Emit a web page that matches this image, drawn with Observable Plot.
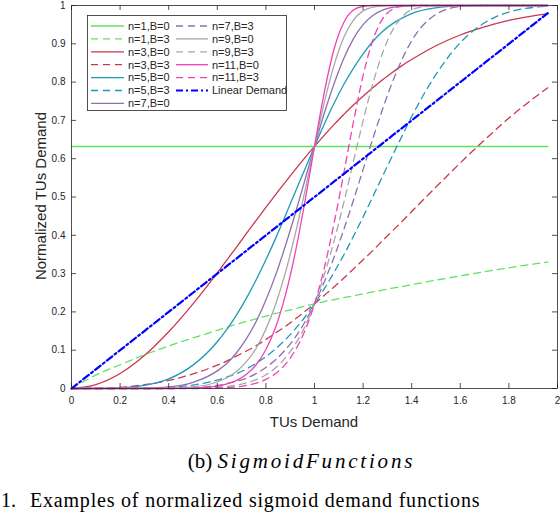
<!DOCTYPE html>
<html>
<head>
<meta charset="utf-8">
<script src="https://cdn.jsdelivr.net/npm/d3@7"></script>
<script src="https://cdn.jsdelivr.net/npm/@observablehq/plot@0.6"></script>
<style>
  body { margin: 0; background: #fff; }
  #wrap { position: relative; width: 560px; height: 512px; overflow: hidden; font-family: "Liberation Sans", Arial, sans-serif; color: #262626; }
  #chart { position: absolute; left: 0; top: 0; }
  .axlab { position: absolute; font-size: 15px; color: #262626; white-space: nowrap; }
  #xlab { left: 314px; top: 421px; transform: translate(-50%, -50%); }
  #ylab { left: 40px; top: 196px; transform: translate(-50%, -50%) rotate(-90deg); }
  #legend { position: absolute; left: 0; top: 0; }
  #caption { position: absolute; left: 0; width: 603px; top: 449px; text-align: center; font-family: "Liberation Serif", "DejaVu Serif", serif; font-size: 21px; color: #000; white-space: nowrap; }
  #caption i { letter-spacing: 2.8px; }
  .foot { position: absolute; top: 489px; line-height: 22px; font-family: "Liberation Serif", "DejaVu Serif", serif; font-size: 20px; color: #000; white-space: nowrap; }
</style>
</head>
<body>
<div id="wrap">
  <div id="chart"></div>
  <div class="axlab" id="xlab">TUs Demand</div>
  <div class="axlab" id="ylab">Normalized TUs Demand</div>
  <div id="caption">(b) <i>SigmoidFunctions</i></div>
  <div class="foot" style="left:1px">1.</div>
  <div class="foot" style="left:30px; letter-spacing:0.8px">Examples of normalized sigmoid demand functions</div>
</div>
<script>
// ---- data ----
const xs = [0,0.1,0.2,0.3,0.4,0.5,0.6,0.64,0.68,0.72,0.76,0.8,0.84,0.88,0.92,0.96,1.0,1.04,1.08,1.12,1.16,1.2,1.24,1.28,1.32,1.36,1.4,1.5,1.6,1.7,1.8,1.9,1.96];

const n1B0 = [0.632,0.632,0.632,0.632,0.632,0.632,0.632,0.632,0.632,0.632,0.632,0.632,0.632,0.632,0.632,0.632,0.632,0.632,0.632,0.632,0.632,0.632,0.632,0.632,0.632,0.632,0.632,0.632,0.632,0.632,0.632,0.632,0.632];
const n1B3 = [0,0.035,0.062,0.088,0.111,0.132,0.152,0.16,0.168,0.175,0.182,0.189,0.196,0.202,0.208,0.215,0.221,0.227,0.232,0.237,0.242,0.247,0.252,0.257,0.262,0.266,0.271,0.283,0.294,0.305,0.315,0.325,0.33];
const n3B0 = [0,0.01,0.039,0.086,0.148,0.221,0.302,0.336,0.37,0.405,0.439,0.473,0.506,0.539,0.571,0.602,0.632,0.661,0.689,0.715,0.74,0.763,0.785,0.806,0.825,0.843,0.859,0.895,0.923,0.944,0.961,0.973,0.979];
const n3B3 = [0,0.0005,0.003,0.01,0.021,0.038,0.061,0.072,0.085,0.098,0.112,0.128,0.145,0.162,0.181,0.201,0.221,0.243,0.265,0.288,0.312,0.336,0.36,0.386,0.411,0.436,0.462,0.526,0.589,0.649,0.706,0.757,0.785];
const n5B0 = [0,0.0001,0.0016,0.0081,0.025,0.061,0.122,0.155,0.193,0.236,0.284,0.336,0.392,0.451,0.512,0.572,0.632,0.69,0.744,0.793,0.836,0.874,0.906,0.932,0.952,0.967,0.979,0.994,0.999,1,1,1,1];
const n5B3 = [0,0,0.0001,0.0008,0.003,0.009,0.022,0.03,0.039,0.051,0.066,0.083,0.104,0.127,0.155,0.186,0.221,0.26,0.303,0.348,0.397,0.448,0.501,0.554,0.607,0.659,0.71,0.82,0.903,0.955,0.983,0.995,0.998];
const n7B0 = [0,0,0.0001,0.0007,0.004,0.016,0.046,0.066,0.094,0.13,0.175,0.231,0.296,0.372,0.455,0.543,0.632,0.718,0.795,0.861,0.913,0.95,0.974,0.988,0.995,0.998,1,1,1,1,1,1,1];
const n7B3 = [0,0,0,0,0.0005,0.002,0.008,0.013,0.019,0.027,0.039,0.055,0.075,0.101,0.133,0.173,0.221,0.278,0.342,0.414,0.491,0.572,0.652,0.729,0.799,0.859,0.908,0.977,0.997,1,1,1,1];
const n9B0 = [0,0,0,0,0.0007,0.004,0.017,0.028,0.045,0.07,0.105,0.155,0.22,0.302,0.401,0.514,0.632,0.746,0.843,0.916,0.962,0.986,0.996,0.999,1,1,1,1,1,1,1,1,1];
const n9B3 = [0,0,0,0,0,0.0006,0.003,0.005,0.009,0.015,0.023,0.036,0.054,0.08,0.115,0.161,0.221,0.296,0.384,0.484,0.592,0.699,0.796,0.876,0.934,0.97,0.989,1,1,1,1,1,1];
const n11B0 = [0,0,0,0,0,0.001,0.006,0.012,0.021,0.037,0.062,0.102,0.16,0.243,0.352,0.486,0.632,0.772,0.885,0.955,0.988,0.998,1,1,1,1,1,1,1,1,1,1,1];
const n11B3 = [0,0,0,0,0,0,0.001,0.002,0.004,0.008,0.014,0.024,0.039,0.063,0.099,0.15,0.221,0.314,0.43,0.56,0.695,0.817,0.909,0.965,0.99,0.998,1,1,1,1,1,1,1];
const linearDemand = [0,0.05,0.1,0.15,0.2,0.25,0.3,0.32,0.34,0.36,0.38,0.4,0.42,0.44,0.46,0.48,0.5,0.52,0.54,0.56,0.58,0.6,0.62,0.64,0.66,0.68,0.7,0.75,0.8,0.85,0.9,0.95,0.98];

const xTicks = [0,0.2,0.4,0.6,0.8,1,1.2,1.4,1.6,1.8,2];
const yTicks = [0,0.1,0.2,0.3,0.4,0.5,0.6,0.7,0.8,0.9,1];

// ---- styling ----
const GREEN = "#5fe35f", RED = "#c9384f", TEAL = "#1e9ab6", PURPLE = "#8f6fb0", GRAY = "#a8a8a8", PINK = "#ee42b6", BLUE = "#0000ff";
const DASH = "7,5";
const series = [
  {label: "n=1,B=0", y: n1B0, color: GREEN, dash: null, w: 1.5},
  {label: "n=1,B=3", y: n1B3, color: GREEN, dash: DASH, w: 1.3},
  {label: "n=3,B=0", y: n3B0, color: RED, dash: null, w: 1.3},
  {label: "n=3,B=3", y: n3B3, color: RED, dash: DASH, w: 1.3},
  {label: "n=5,B=0", y: n5B0, color: TEAL, dash: null, w: 1.3},
  {label: "n=5,B=3", y: n5B3, color: TEAL, dash: DASH, w: 1.3},
  {label: "n=7,B=0", y: n7B0, color: PURPLE, dash: null, w: 1.3},
  {label: "n=7,B=3", y: n7B3, color: PURPLE, dash: DASH, w: 1.3},
  {label: "n=9,B=0", y: n9B0, color: GRAY, dash: null, w: 1.3},
  {label: "n=9,B=3", y: n9B3, color: GRAY, dash: DASH, w: 1.3},
  {label: "n=11,B=0", y: n11B0, color: PINK, dash: null, w: 1.3},
  {label: "n=11,B=3", y: n11B3, color: PINK, dash: DASH, w: 1.3},
  {label: "Linear Demand", y: linearDemand, color: BLUE, dash: "7,3,2,3", w: 2.2}
];

const W = 560, H = 440, ML = 71, MR = 3, MT = 5, MB = 52;
const innerW = W - ML - MR, innerH = H - MT - MB;
const AX = "#262626";

const lineMarks = series.map(s =>
  Plot.line(xs.map((x, i) => ({x, y: s.y[i]})), {
    x: "x", y: "y", stroke: s.color, strokeWidth: s.w,
    strokeDasharray: s.dash || undefined, curve: "monotone-x"
  })
);

const chart = Plot.plot({
  width: W, height: H,
  marginLeft: ML, marginRight: MR, marginTop: MT, marginBottom: MB,
  style: {fontFamily: "Liberation Sans, Arial, sans-serif", fontSize: "10px", color: AX, background: "#fff", overflow: "visible"},
  x: {domain: [0, 2]},
  y: {domain: [0, 1]},
  marks: [
    ...lineMarks,
    Plot.frame({stroke: AX, strokeWidth: 0.8}),
    Plot.tickX(xTicks, {x: d => d, insetTop: innerH - 5, stroke: AX, strokeWidth: 0.8}),
    Plot.tickX(xTicks, {x: d => d, insetBottom: innerH - 5, stroke: AX, strokeWidth: 0.8}),
    Plot.tickY(yTicks, {y: d => d, insetRight: innerW - 5, stroke: AX, strokeWidth: 0.8}),
    Plot.tickY(yTicks, {y: d => d, insetLeft: innerW - 5, stroke: AX, strokeWidth: 0.8}),
    Plot.axisX({ticks: xTicks, tickSize: 0, tickPadding: 8, tickFormat: d => String(d), label: null, fill: AX}),
    Plot.axisY({ticks: yTicks, tickSize: 0, tickPadding: 6, tickFormat: d => String(d), label: null, fill: AX})
  ]
});
document.getElementById("chart").appendChild(chart);

// ---- legend (HTML/SVG overlay) ----
const ns = "http://www.w3.org/2000/svg";
const leg = document.createElementNS(ns, "svg");
leg.setAttribute("width", 560); leg.setAttribute("height", 130);
leg.setAttribute("id", "legend");
leg.style.position = "absolute"; leg.style.left = "0px"; leg.style.top = "0px";
const box = document.createElementNS(ns, "rect");
box.setAttribute("x", 87.5); box.setAttribute("y", 15.5); box.setAttribute("width", 199); box.setAttribute("height", 95);
box.setAttribute("fill", "#fff"); box.setAttribute("stroke", AX); box.setAttribute("stroke-width", 0.8);
leg.appendChild(box);
const rowY0 = 26, rowDY = 12.9;
series.forEach((s, i) => {
  const col = i < 7 ? 0 : 1;
  const row = i < 7 ? i : i - 7;
  const x1 = col === 0 ? 91 : 176, x2 = col === 0 ? 124 : 208, tx = col === 0 ? 128 : 212;
  const y = rowY0 + row * rowDY;
  const ln = document.createElementNS(ns, "line");
  ln.setAttribute("x1", x1); ln.setAttribute("x2", x2); ln.setAttribute("y1", y); ln.setAttribute("y2", y);
  ln.setAttribute("stroke", s.color); ln.setAttribute("stroke-width", s.w);
  if (s.dash) ln.setAttribute("stroke-dasharray", s.dash);
  leg.appendChild(ln);
  const t = document.createElementNS(ns, "text");
  t.setAttribute("x", tx); t.setAttribute("y", y); t.setAttribute("dy", "0.35em");
  t.setAttribute("font-family", "Liberation Sans, Arial, sans-serif"); t.setAttribute("font-size", "11px");
  t.setAttribute("fill", AX);
  t.textContent = s.label;
  leg.appendChild(t);
});
document.getElementById("wrap").insertBefore(leg, document.getElementById("xlab"));
</script>
</body>
</html>
